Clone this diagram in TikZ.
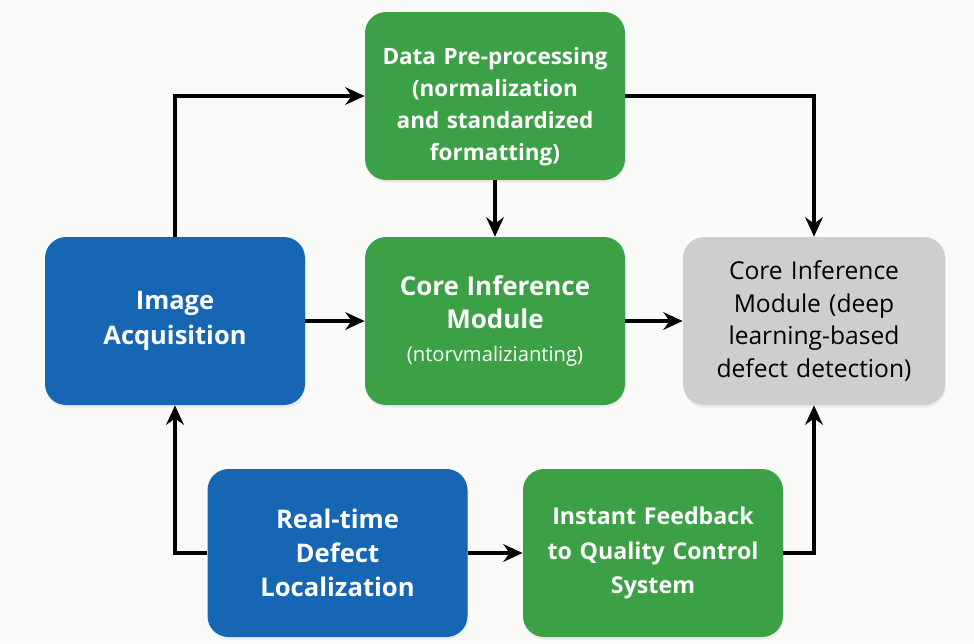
\documentclass[tikz,border=0pt]{standalone}
\usepackage{fontspec}
\setmainfont{Open Sans}
\definecolor{accblue}{RGB}{22, 102, 180}
\definecolor{procgreen}{RGB}{60, 160, 70}
\definecolor{modgray}{RGB}{206, 206, 206}
\definecolor{pagebg}{RGB}{250, 250, 248}
\usepackage{tikz}
\usetikzlibrary{arrows.meta, positioning, calc, shadows}

\begin{document}
\begin{tikzpicture}[
  cbox/.style={rounded corners=12pt, text width=4.9cm, align=center, minimum width=5.2cm, minimum height=3.36cm, inner sep=3pt, font=\fontsize{12.8}{19}\selectfont\bfseries, text=white, drop shadow={opacity=0.12, shadow xshift=0.5pt, shadow yshift=-1.5pt}},
  flow/.style={line width=2.1pt, -{Stealth[length=11pt, width=10pt]}}
]
  \fill[pagebg] (0,0) rectangle (19.48,-12.86);
  \useasboundingbox (0,0) rectangle (19.48,-12.86);

  \node[cbox, fill=procgreen, font=\fontsize{12.8}{18.2}\selectfont\bfseries] (prep) at (9.9, -1.92) {
    \rule{0pt}{22pt}Data Pre-processing\\
    (normalization\\
    and standardized\\
    formatting)
  };
  \node[cbox, fill=accblue, font=\fontsize{14.5}{19.5}\selectfont\bfseries] (acq) at (3.5, -6.42) {
    Image\\
    Acquisition
  };
  \node[cbox, fill=procgreen] (core) at (9.9, -6.42) {
    {\fontsize{14.8}{18.5}\selectfont Core Inference\\
    Module}\\
    {\normalfont\fontsize{11.5}{19}\selectfont(ntorvmalizianting)}
  };
  \node[cbox, fill=modgray, text=black, minimum width=5.24cm, font=\fontsize{14}{18.5}\selectfont] (deep) at (16.28, -6.42) {
    Core Inference\\
    Module (deep\\
    learning-based\\
    defect detection)
  };
  \node[cbox, fill=accblue, font=\fontsize{14.6}{19.5}\selectfont\bfseries] (loc) at (6.75, -11.06) {
    Real-time\\
    Defect\\
    Localization
  };
  \node[cbox, fill=procgreen, font=\fontsize{13.2}{19.5}\selectfont\bfseries] (fb) at (13.06, -11.06) {
    Instant Feedback\\
    to Quality Control\\
    System
  };

  \draw[flow] (acq.north) |- (prep.west);
  \draw[flow] (prep.east) -| (deep.north);
  \draw[flow] (prep) -- (core);
  \draw[flow] (acq) -- (core);
  \draw[flow] (core) -- (deep);
  \draw[flow] (loc.west) -| (acq.south);
  \draw[flow] (loc) -- (fb);
  \draw[flow] (fb.east) -| (deep.south);
\end{tikzpicture}
\end{document}
